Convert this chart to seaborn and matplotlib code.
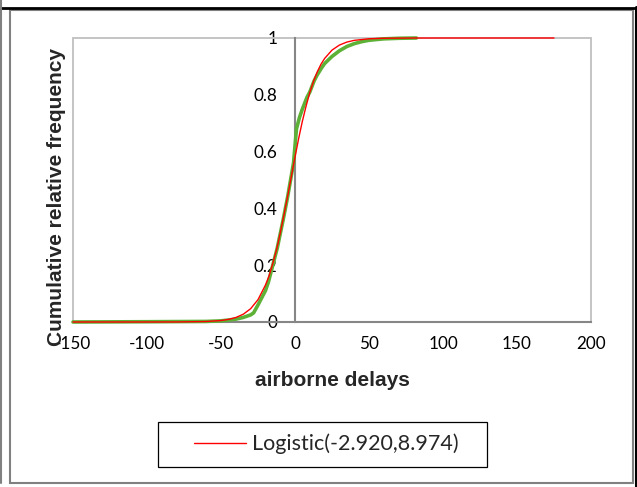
import numpy as np
import pandas as pd
import matplotlib
matplotlib.use("Agg")
import matplotlib.pyplot as plt
from matplotlib.patches import Rectangle
from matplotlib.lines import Line2D
import seaborn as sns

# ---- data ----
emp_x = [-150, -100, -60, -50, -40, -35, -30, -28, -25, -22, -20, -18, -15, -12, -10,
         -8, -5, -3, -1, 0, 1, 3, 5, 8, 10, 13, 15, 18, 20, 25, 30, 35, 40, 45, 50,
         60, 70, 82]
emp_y = [0.0, 0.001, 0.002, 0.004, 0.010, 0.016, 0.025, 0.032, 0.06, 0.09, 0.11, 0.14,
         0.20, 0.26, 0.31, 0.36, 0.44, 0.50, 0.56, 0.62, 0.68, 0.72, 0.75, 0.79, 0.81,
         0.85, 0.87, 0.895, 0.91, 0.935, 0.955, 0.97, 0.98, 0.987, 0.992, 0.997, 0.999,
         1.0]

fit_x = [-150, -100, -80, -60, -50, -45, -40, -35, -30, -25, -20, -17.5, -15, -12.5, -10,
         -7.5, -5, -2.5, 0, 2.5, 5, 7.5, 10, 12.5, 15, 17.5, 20, 25, 30, 35, 40, 50, 60,
         80, 100, 175]
fit_y = [0.0, 0.00002, 0.0002, 0.0017, 0.0052, 0.0091, 0.0158, 0.0272, 0.0467, 0.0787,
         0.1297, 0.1626, 0.2066, 0.2538, 0.3124, 0.3759, 0.4423, 0.5117, 0.5806, 0.6469,
         0.7074, 0.7603, 0.8084, 0.8472, 0.8805, 0.9071, 0.9279, 0.9574, 0.9751, 0.9856,
         0.9917, 0.9973, 0.9991, 0.9999, 1.0, 1.0]

legend_label = "Logistic(-2.920,8.974)"
x_label = "airborne delays"
y_label = "Cumulative relative frequency"
x_ticks = [-150, -100, -50, 0, 50, 100, 150, 200]
y_ticks = [0, 0.2, 0.4, 0.6, 0.8, 1.0]
y_tick_labels = ["0", "0.2", "0.4", "0.6", "0.8", "1"]

emp_df = pd.DataFrame({"x": emp_x, "y": emp_y})
fit_df = pd.DataFrame({"x": fit_x, "y": fit_y})

sns.set_style("white")
plt.rcParams["font.family"] = ["Lato", "DejaVu Sans"]

W, H = 637, 487
fig = plt.figure(figsize=(W / 100, H / 100), dpi=100)

def fx(px):
    return px / W

def fy(py):
    return 1 - py / H

ax = fig.add_axes([fx(73), fy(322), fx(591) - fx(73), fy(38) - fy(322)])

AXIS_GRAY = "#868686"
FRAME_GRAY = "#BFBFBF"

sns.lineplot(data=emp_df, x="x", y="y", ax=ax, color="#5DB136", linewidth=2.6,
             sort=False, estimator=None, clip_on=False, zorder=3)
sns.lineplot(data=fit_df, x="x", y="y", ax=ax, color="#FF0000", linewidth=1.0,
             sort=False, estimator=None, clip_on=False, zorder=4)

ax.set_xlim(-150, 200)
ax.set_ylim(0, 1)
ax.set_xlabel("")
ax.set_ylabel("")
ax.set_xticks(x_ticks)
ax.set_xticklabels([str(t) for t in x_ticks])
ax.set_yticks(y_ticks)
ax.set_yticklabels(y_tick_labels)

# frame
ax.add_patch(Rectangle((0, 0), 1, 1, transform=ax.transAxes, fill=False,
                       edgecolor=FRAME_GRAY, linewidth=1.3, clip_on=False, zorder=1))
ax.spines["top"].set_visible(False)
ax.spines["right"].set_visible(False)
ax.spines["left"].set_position(("data", 0))
ax.spines["left"].set_color(AXIS_GRAY)
ax.spines["left"].set_linewidth(1.5)
ax.spines["bottom"].set_color(AXIS_GRAY)
ax.spines["bottom"].set_linewidth(1.5)
ax.spines["left"].set_zorder(2)
ax.spines["bottom"].set_zorder(2)

ax.tick_params(axis="both", which="major", direction="inout", length=7.2, width=1.1,
               color=AXIS_GRAY, labelsize=12.3, labelcolor="black")
ax.tick_params(axis="y", pad=9.0)
ax.tick_params(axis="x", pad=6.5)

# axis titles
fig.text(fx(57), fy(197), y_label, rotation=90, ha="center", va="center",
         fontsize=15, fontweight="bold", family=["Liberation Sans", "DejaVu Sans"])
fig.text(fx(332), fy(380), x_label, ha="center", va="center",
         fontsize=15, fontweight="bold", family=["Liberation Sans", "DejaVu Sans"])

# legend
leg_fs = 15.5
leg_px = leg_fs * 100 / 72
handle = Line2D([], [], color="#FF0000", linewidth=1.0)
fig.legend([handle], [legend_label], loc="center left",
           bbox_to_anchor=(fx(194), fy(444)), frameon=False, borderpad=0,
           borderaxespad=0, handlelength=52 / leg_px, handletextpad=6 / leg_px,
           fontsize=leg_fs)
fig.patches.append(Rectangle((fx(158), fy(467)), fx(487) - fx(158), fy(422) - fy(467),
                             transform=fig.transFigure, fill=False, edgecolor="black",
                             linewidth=0.9))

# outer borders
fig.patches.append(Rectangle((fx(10), fy(483)), fx(633) - fx(10), fy(9.5) - fy(483),
                             transform=fig.transFigure, fill=False, edgecolor="#808080",
                             linewidth=1.5))
fig.lines.append(Line2D([fx(0), fx(637)], [fy(7.5), fy(7.5)], transform=fig.transFigure,
                        color="black", linewidth=2.0))
fig.lines.append(Line2D([fx(635.5), fx(635.5)], [fy(7), fy(487)], transform=fig.transFigure,
                        color="black", linewidth=2.2))
fig.lines.append(Line2D([fx(1), fx(1)], [fy(0), fy(483)], transform=fig.transFigure,
                        color="#808080", linewidth=1.5))

fig.savefig("out.png", dpi=100)
